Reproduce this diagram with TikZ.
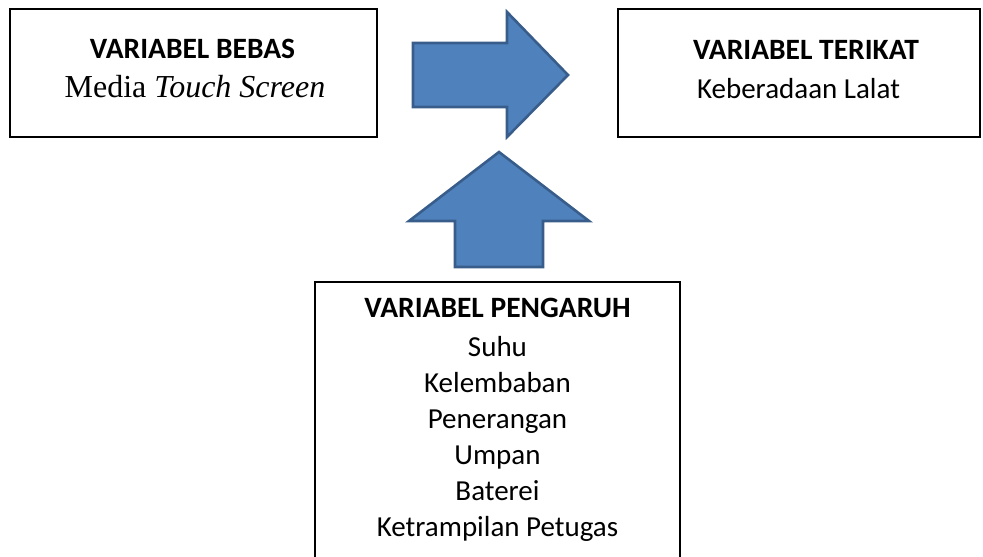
\documentclass[tikz,border=0pt]{standalone}
\usepackage{fontspec}
\setmainfont{Carlito}
\newfontfamily\timesfont{Liberation Serif}
\usetikzlibrary{positioning}
\definecolor{arrowblue}{RGB}{79, 129, 189}
\definecolor{arrowedge}{RGB}{56, 93, 138}

\begin{document}
\begin{tikzpicture}[x=1pt, y=-1pt]
    \useasboundingbox (0, 0) rectangle (983, 557);
    \tikzset{
        varbox/.style={draw=black, line width=1.6pt},
        blockarrow/.style={fill=arrowblue, draw=arrowedge, line width=2.6pt, line join=miter},
        boxtitle/.style={anchor=base, inner sep=0pt, font=\fontsize{29.5}{33}\selectfont\bfseries},
        boxtext/.style={anchor=base, inner sep=0pt, font=\fontsize{29}{33}\selectfont}
    }

    \node[varbox, minimum width=367pt, minimum height=128pt] (bebas) at (193.5, 73) {};
    \node[boxtitle] (bebasT) at (192.5, 58) {VARIABEL BEBAS};
    \node[anchor=base, inner sep=0pt, font=\fontsize{32}{33}\selectfont\timesfont] (bebasM) at (195, 97) {Media \textit{Touch Screen}};

    \node[varbox, minimum width=362pt, minimum height=128pt] (terikat) at (799, 73) {};
    \node[boxtitle] (terikatT) at (806, 59) {VARIABEL TERIKAT};
    \node[boxtext] (terikatM) at (798.5, 98) {Keberadaan Lalat};

    \draw[varbox] (315, 570) -- (315, 282) -- (680, 282) -- (680, 570);
    \node[boxtitle] (pengaruhT) at (497.5, 317) {VARIABEL PENGARUH};
    \foreach \txt [count=\i] in {Suhu, Kelembaban, Penerangan, Umpan, Baterei, Ketrampilan Petugas}
        \node[boxtext] (item\i) at (497.5, 320 + 36*\i) {\txt};

    % arrow to the right
    \draw[blockarrow] (413, 43) -- (507, 43) -- (507, 12) -- (568, 75) -- (507, 137) -- (507, 107) -- (413, 107) -- cycle;
    % arrow upward
    \draw[blockarrow] (455, 267) -- (455, 221) -- (409, 221) -- (499, 152) -- (589, 221) -- (543, 221) -- (543, 267) -- cycle;
\end{tikzpicture}
\end{document}
